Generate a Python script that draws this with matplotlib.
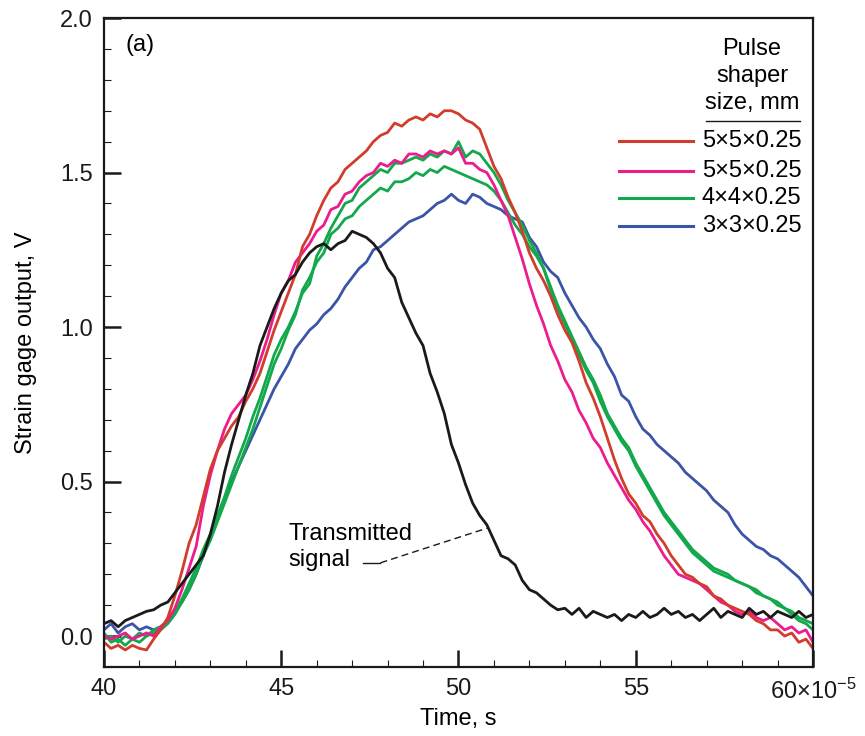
import numpy as np
import matplotlib
matplotlib.use("Agg")
import matplotlib.pyplot as plt

plt.rcParams["font.family"] = ["Liberation Sans", "DejaVu Sans"]
plt.rcParams["mathtext.default"] = "regular"

# sample times (x 1e-5 s), every 0.2
time = np.round(np.arange(40.0, 60.001, 0.2), 1)

# transmitted signal (black)
transmitted = [
    0.04, 0.05, 0.03, 0.05, 0.06, 0.07, 0.08, 0.085, 0.10, 0.11,
    0.14, 0.17, 0.20, 0.23, 0.26, 0.33, 0.42, 0.53, 0.62, 0.70,
    0.78, 0.85, 0.94, 1.00, 1.06, 1.11, 1.15, 1.17, 1.21, 1.24,
    1.26, 1.27, 1.25, 1.27, 1.28, 1.31, 1.30, 1.29, 1.27, 1.24,
    1.19, 1.16, 1.08, 1.03, 0.98, 0.94, 0.85, 0.79, 0.72, 0.62,
    0.56, 0.49, 0.43, 0.39, 0.36, 0.31, 0.26, 0.25, 0.23, 0.18,
    0.15, 0.14, 0.12, 0.10, 0.085, 0.09, 0.07, 0.09, 0.06, 0.08,
    0.07, 0.06, 0.07, 0.05, 0.07, 0.06, 0.08, 0.06, 0.07, 0.09,
    0.07, 0.08, 0.06, 0.07, 0.05, 0.07, 0.09, 0.06, 0.08, 0.07,
    0.06, 0.09, 0.07, 0.08, 0.06, 0.08, 0.07, 0.06, 0.08, 0.06,
    0.07,
]

red_5x5 = [
    -0.02, -0.04, -0.03, -0.045, -0.03, -0.04, -0.045, -0.01, 0.02, 0.06,
    0.13, 0.21, 0.30, 0.36, 0.45, 0.54, 0.60, 0.64, 0.68, 0.71,
    0.76, 0.80, 0.85, 0.92, 0.99, 1.05, 1.11, 1.17, 1.26, 1.30,
    1.36, 1.41, 1.45, 1.47, 1.51, 1.53, 1.55, 1.57, 1.60, 1.62,
    1.63, 1.66, 1.65, 1.67, 1.68, 1.67, 1.69, 1.68, 1.70, 1.70,
    1.69, 1.67, 1.66, 1.64, 1.58, 1.52, 1.48, 1.42, 1.37, 1.31,
    1.24, 1.19, 1.15, 1.10, 1.04, 0.99, 0.95, 0.89, 0.82, 0.77,
    0.71, 0.64, 0.57, 0.51, 0.46, 0.43, 0.39, 0.37, 0.33, 0.30,
    0.26, 0.23, 0.20, 0.19, 0.17, 0.16, 0.13, 0.12, 0.10, 0.09,
    0.08, 0.07, 0.05, 0.04, 0.02, 0.02, 0.00, 0.01, -0.02, -0.01,
    -0.04,
]

pink_5x5 = [
    0.00, -0.01, 0.00, 0.01, -0.01, 0.00, 0.01, 0.00, 0.03, 0.05,
    0.09, 0.15, 0.22, 0.29, 0.42, 0.52, 0.60, 0.67, 0.72, 0.75,
    0.78, 0.83, 0.89, 0.96, 1.04, 1.11, 1.15, 1.21, 1.24, 1.27,
    1.31, 1.33, 1.38, 1.39, 1.43, 1.44, 1.47, 1.49, 1.50, 1.53,
    1.52, 1.54, 1.53, 1.56, 1.56, 1.55, 1.57, 1.56, 1.57, 1.56,
    1.58, 1.53, 1.53, 1.51, 1.50, 1.46, 1.41, 1.36, 1.29, 1.22,
    1.14, 1.07, 1.01, 0.94, 0.89, 0.83, 0.79, 0.73, 0.69, 0.64,
    0.61, 0.56, 0.52, 0.48, 0.44, 0.41, 0.37, 0.34, 0.30, 0.26,
    0.23, 0.20, 0.19, 0.18, 0.17, 0.15, 0.13, 0.11, 0.10, 0.08,
    0.07, 0.08, 0.06, 0.05, 0.06, 0.04, 0.02, 0.03, 0.01, 0.02,
    -0.02,
]

green_4x4_a = [
    -0.01, 0.00, -0.02, 0.00, -0.01, 0.01, 0.00, 0.02, 0.03, 0.05,
    0.08, 0.12, 0.17, 0.22, 0.28, 0.33, 0.39, 0.45, 0.52, 0.58,
    0.64, 0.71, 0.77, 0.84, 0.91, 0.96, 1.00, 1.05, 1.11, 1.14,
    1.23, 1.27, 1.32, 1.36, 1.40, 1.41, 1.45, 1.47, 1.49, 1.51,
    1.50, 1.53, 1.53, 1.54, 1.55, 1.54, 1.56, 1.55, 1.57, 1.56,
    1.60, 1.55, 1.57, 1.56, 1.53, 1.50, 1.46, 1.41, 1.37, 1.33,
    1.28, 1.24, 1.19, 1.12, 1.06, 1.01, 0.96, 0.91, 0.86, 0.82,
    0.76, 0.71, 0.67, 0.63, 0.60, 0.55, 0.51, 0.47, 0.43, 0.39,
    0.36, 0.33, 0.30, 0.27, 0.25, 0.23, 0.21, 0.20, 0.19, 0.18,
    0.17, 0.16, 0.14, 0.13, 0.12, 0.11, 0.09, 0.07, 0.05, 0.04,
    0.02,
]

green_4x4_b = [
    0.01, -0.02, -0.01, -0.03, -0.01, -0.02, 0.00, 0.01, 0.02, 0.04,
    0.07, 0.11, 0.15, 0.20, 0.26, 0.31, 0.37, 0.43, 0.49, 0.55,
    0.61, 0.67, 0.74, 0.81, 0.88, 0.93, 0.99, 1.04, 1.12, 1.16,
    1.21, 1.24, 1.30, 1.32, 1.35, 1.36, 1.39, 1.41, 1.43, 1.45,
    1.44, 1.47, 1.47, 1.48, 1.50, 1.49, 1.51, 1.50, 1.52, 1.51,
    1.50, 1.49, 1.48, 1.47, 1.46, 1.44, 1.41, 1.37, 1.33, 1.30,
    1.26, 1.23, 1.19, 1.13, 1.07, 1.02, 0.97, 0.92, 0.87, 0.83,
    0.78, 0.72, 0.68, 0.64, 0.61, 0.56, 0.52, 0.48, 0.44, 0.40,
    0.37, 0.34, 0.31, 0.28, 0.26, 0.24, 0.22, 0.21, 0.20, 0.18,
    0.17, 0.16, 0.15, 0.13, 0.12, 0.10, 0.09, 0.08, 0.06, 0.05,
    0.04,
]

blue_3x3 = [
    0.02, 0.04, 0.01, 0.03, 0.04, 0.02, 0.03, 0.02, 0.03, 0.05,
    0.08, 0.11, 0.15, 0.20, 0.26, 0.32, 0.38, 0.44, 0.50, 0.55,
    0.60, 0.65, 0.70, 0.75, 0.80, 0.84, 0.88, 0.93, 0.96, 0.99,
    1.01, 1.04, 1.06, 1.09, 1.13, 1.16, 1.19, 1.21, 1.25, 1.26,
    1.28, 1.30, 1.32, 1.34, 1.35, 1.36, 1.38, 1.40, 1.41, 1.43,
    1.41, 1.40, 1.43, 1.42, 1.40, 1.39, 1.38, 1.36, 1.35, 1.34,
    1.29, 1.26, 1.21, 1.18, 1.16, 1.11, 1.07, 1.03, 1.00, 0.96,
    0.93, 0.88, 0.84, 0.78, 0.76, 0.71, 0.67, 0.65, 0.62, 0.60,
    0.58, 0.56, 0.53, 0.51, 0.49, 0.47, 0.44, 0.42, 0.40, 0.36,
    0.33, 0.31, 0.29, 0.28, 0.26, 0.25, 0.23, 0.21, 0.19, 0.16,
    0.13,
]

labels = ["5×5×0.25", "5×5×0.25", "4×4×0.25", "3×3×0.25"]
colors = ["#d23c2c", "#ec1c8c", "#14a84c", "#3a55a8"]

fs = 17

fig = plt.figure(figsize=(8.65, 7.36), dpi=100)
ax = fig.add_axes([0.1202, 0.0938, 0.8197, 0.8817])

lw = 2.0
ax.plot(time, blue_3x3, color=colors[3], lw=lw)
ax.plot(time, green_4x4_b, color=colors[2], lw=lw)
ax.plot(time, green_4x4_a, color=colors[2], lw=lw)
ax.plot(time, pink_5x5, color=colors[1], lw=lw)
ax.plot(time, red_5x5, color=colors[0], lw=lw)
ax.plot(time, transmitted, color="#1a1a1a", lw=lw)

ax.set_xlim(40, 60)
ax.set_ylim(-0.1, 2.0)
ax.set_xticks([40, 45, 50, 55, 60])
ax.set_xticklabels(["40", "45", "50", "55", ""])
ax.set_xticks(np.arange(40, 60, 1), minor=True)
ax.set_yticks([0.0, 0.5, 1.0, 1.5, 2.0])
ax.set_yticklabels(["0.0", "0.5", "1.0", "1.5", "2.0"])
ax.set_yticks(np.arange(-0.1, 2.0, 0.1), minor=True)
ax.tick_params(which="both", direction="in", top=False, right=False,
               labelsize=fs, colors="#1a1a1a")
ax.tick_params(which="major", length=12, width=1.8, pad=8)
ax.tick_params(which="minor", length=5, width=0.8)
for s in ax.spines.values():
    s.set_linewidth(1.6)
    s.set_color("#1a1a1a")

# last tick label with the exponent, on the same baseline as the others
ax.text(60, -0.0493, "60×10$^{-5}$", transform=ax.get_xaxis_transform(),
        fontsize=fs, ha="center", va="baseline", color="#1a1a1a")

ax.set_xlabel("Time, s", fontsize=fs, labelpad=6)
ax.set_ylabel("Strain gage output, V", fontsize=fs, labelpad=17)

ax.text(0.03, 0.958, "(a)", transform=ax.transAxes, fontsize=fs,
        ha="left", va="center")

# legend drawn by hand, with underlined title
ax.text(0.914, 0.911, "Pulse\nshaper\nsize, mm", transform=ax.transAxes,
        fontsize=fs, ha="center", va="center", linespacing=1.3)
ax.plot([0.849, 0.982], [0.842, 0.842], transform=ax.transAxes,
        color="#1a1a1a", lw=1.0)
rows = [0.810, 0.765, 0.722, 0.680]
for lab, c, yy in zip(labels, colors, rows):
    ax.plot([0.726, 0.831], [yy, yy], transform=ax.transAxes, color=c, lw=2.2)
    ax.text(0.843, yy, lab, transform=ax.transAxes, fontsize=fs,
            ha="left", va="center")

# transmitted signal annotation
ax.text(45.2, 0.288, "Transmitted\nsignal", fontsize=fs, ha="left",
        va="center", linespacing=1.27)
ax.plot([47.3, 47.8], [0.237, 0.237], color="#1a1a1a", lw=1.0)
ax.plot([47.8, 50.8], [0.237, 0.349], color="#1a1a1a", lw=1.0,
        dashes=(5, 3))

fig.savefig("out.png", dpi=100)
